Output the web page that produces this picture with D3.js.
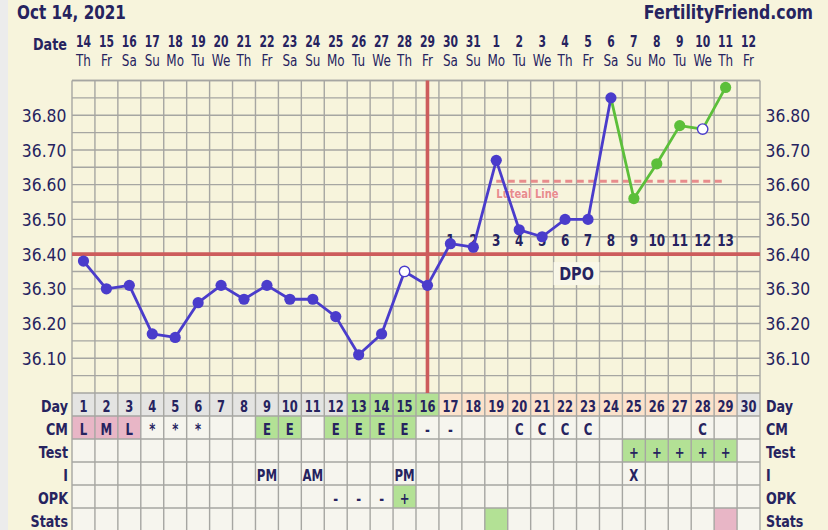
<!DOCTYPE html>
<html><head><meta charset="utf-8">
<script src="https://cdn.jsdelivr.net/npm/d3@7"></script>
<style>html,body{margin:0;padding:0;background:#f7f4dc;overflow:hidden}</style>
</head><body><svg id="c" width="828" height="530"></svg>
<script>
// ---------- data ----------
const titleDate = "Oct 14, 2021";
const siteName = "FertilityFriend.com";
const dates = ["14","15","16","17","18","19","20","21","22","23","24","25","26","27","28","29","30","31","1","2","3","4","5","6","7","8","9","10","11","12"];
const weekdays = ["Th","Fr","Sa","Su","Mo","Tu","We","Th","Fr","Sa","Su","Mo","Tu","We","Th","Fr","Sa","Su","Mo","Tu","We","Th","Fr","Sa","Su","Mo","Tu","We","Th","Fr"];
const cycleDays = [1,2,3,4,5,6,7,8,9,10,11,12,13,14,15,16,17,18,19,20,21,22,23,24,25,26,27,28,29,30];
const temps = [36.38,36.30,36.31,36.17,36.16,36.26,36.31,36.27,36.31,36.27,36.27,36.22,36.11,36.17,36.35,36.31,36.43,36.42,36.67,36.47,36.45,36.50,36.50,36.85,36.56,36.66,36.77,36.76,36.88];
const openDays = [15,28];
const greenDays = [25,26,27,28,29];
const yTicks = [36.10,36.20,36.30,36.40,36.50,36.60,36.70,36.80];
const coverline = 36.40;
const ovulationDay = 16;
const lutealTemp = 36.61;
const lutealDays = [19,29];
const lutealLabel = "Luteal Line";
const dpoLabels = ["1","2","3","4","5","6","7","8","9","10","11","12","13"];
const dpoStartDay = 17;
const dpoTitle = "DPO";
const dpoBoxDays = [22,23];
// table rows: n = neutral, g = green, p = pink, f = fertile (green), l = luteal (peach), x = grey
const dayStatus = ["x","x","x","x","x","x","x","x","x","x","x","x","f","f","f","f","l","l","l","l","l","l","l","l","l","l","l","l","l","x"];
const cmValues = ["L","M","L","*","*","*","","","E","E","","E","E","E","E","-","-","","","C","C","C","C","","","","","C","",""];
const cmStatus = ["p","p","p","n","n","n","n","n","g","g","n","g","g","g","g","n","n","n","n","n","n","n","n","n","n","n","n","n","n","n"];
const testValues = ["","","","","","","","","","","","","","","","","","","","","","","","","+","+","+","+","+",""];
const testStatus = ["n","n","n","n","n","n","n","n","n","n","n","n","n","n","n","n","n","n","n","n","n","n","n","n","g","g","g","g","g","n"];
const iValues = ["","","","","","","","","PM","","AM","","","","PM","","","","","","","","","","X","","","","",""];
const opkValues = ["","","","","","","","","","","","-","-","-","+","","","","","","","","","","","","","","",""];
const opkStatus = ["n","n","n","n","n","n","n","n","n","n","n","n","n","n","g","n","n","n","n","n","n","n","n","n","n","n","n","n","n","n"];
const statsValues = ["","","","","","","","","","","","","","","","","","","","","","","","","","","","","",""];
const statsStatus = ["n","n","n","n","n","n","n","n","n","n","n","n","n","n","n","n","n","n","g","n","n","n","n","n","n","n","n","n","p","n"];
const rowLabels = ["Day","CM","Test","I","OPK","Stats"];

// ---------- style ----------
const NAVY = "#26235f", BLUE = "#4a3ccb", GREEN = "#5cbf3a", RED = "#cd5c5c", LUT = "#e88c8c", GRID = "#a6a6a2";
const FILL = {n:"#f6f5ee", g:"#b3e195", p:"#e8b6c6", f:"#b3e195", l:"#fbe2cb", x:"#e4e4e2"};
const FONT = "DejaVu Sans";
const L = 72, R = 760, TOP = 80.5, BOT = 393, ROWH = 23;

const svg = d3.select("#c");
svg.append("rect").attr("width",828).attr("height",530).attr("fill","#f7f4dc");
svg.append("rect").attr("width",8).attr("height",530).attr("fill","#ececec");

const x = d3.scaleBand().domain(cycleDays).range([L,R]);
const cx = d => x(d) + x.bandwidth()/2;
const y = d3.scaleLinear().domain([36.00,36.90]).range([BOT,TOP]);

function T(x0,y0,s,o){
  return svg.append("text")
    .attr("transform",`translate(${x0},${y0}) scale(${o.sx||1},1)`)
    .attr("text-anchor",o.a||"middle")
    .attr("font-family",FONT).attr("font-weight",o.w||"bold")
    .attr("font-size",o.fs).attr("fill",o.c||NAVY).text(s);
}

// header
T(17,18.5,titleDate,{fs:20,sx:0.76,a:"start"});
T(813,18.5,siteName,{fs:20,sx:0.79,a:"end"});
T(67,50,"Date",{fs:16,sx:0.8,a:"end"});
cycleDays.forEach((d,i)=>{
  T(cx(d),46.5,dates[i],{fs:15,sx:0.72});
  T(cx(d),66,weekdays[i],{fs:15,w:"normal",sx:0.8});
});

// table cells
const rows = [
  {values:cycleDays.map(String), status:dayStatus},
  {values:cmValues, status:cmStatus},
  {values:testValues, status:testStatus},
  {values:iValues, status:iValues.map(()=>"n")},
  {values:opkValues, status:opkStatus},
  {values:statsValues, status:statsStatus}
];
rows.forEach((r,ri)=>{
  const top = BOT + ri*ROWH;
  cycleDays.forEach((d,i)=>{
    svg.append("rect").attr("x",x(d)).attr("y",top).attr("width",x.bandwidth()).attr("height",ROWH).attr("fill",FILL[r.status[i]]);
    if(r.values[i]) T(cx(d), top+18.5, r.values[i], {fs: ri===0?16:15, sx: ri===0?0.72:0.78});
  });
  T(68, top+18.5, rowLabels[ri], {fs:16.5, sx:0.77, a:"end"});
  T(766, top+18.5, rowLabels[ri], {fs:16.5, sx:0.77, a:"start"});
});

// grid
const g = svg.append("g").attr("stroke",GRID).attr("stroke-width",1.4);
y.ticks(18).forEach(t=>{
  g.append("line").attr("x1",L).attr("x2",R).attr("y1",y(t)).attr("y2",y(t));
});
g.append("line").attr("x1",L).attr("x2",R).attr("y1",TOP).attr("y2",TOP);
for(let ri=1; ri<=6; ri++){
  g.append("line").attr("x1",L).attr("x2",R).attr("y1",BOT+ri*ROWH).attr("y2",BOT+ri*ROWH);
}
cycleDays.concat([31]).forEach(d=>{
  const xx = d<=30 ? x(d) : R;
  g.append("line").attr("x1",xx).attr("x2",xx).attr("y1",TOP).attr("y2",530);
});

// y axes
const axL = svg.append("g").attr("transform",`translate(${L},0)`)
  .call(d3.axisLeft(y).tickValues(yTicks).tickSize(0).tickPadding(6).tickFormat(d3.format(".2f")));
const axR = svg.append("g").attr("transform",`translate(${R},0)`)
  .call(d3.axisRight(y).tickValues(yTicks).tickSize(0).tickPadding(6).tickFormat(d3.format(".2f")));
[axL,axR].forEach(a=>{
  a.select(".domain").remove();
  a.selectAll("text").attr("font-family",FONT).attr("font-size",17).attr("fill",NAVY)
    .attr("dy","0.36em").attr("transform","scale(0.92,1)");
});

// DPO box
svg.append("rect").attr("x",x(dpoBoxDays[0])).attr("y",y(coverline)+8)
  .attr("width",x(dpoBoxDays[1])+x.bandwidth()-x(dpoBoxDays[0])).attr("height",23).attr("fill","#f9f7e8");
T((x(dpoBoxDays[0])+x(dpoBoxDays[1])+x.bandwidth())/2, y(coverline)+26, dpoTitle, {fs:18, sx:0.8});

// luteal line
svg.append("line").attr("x1",cx(lutealDays[0])).attr("x2",cx(lutealDays[1]))
  .attr("y1",y(lutealTemp)).attr("y2",y(lutealTemp))
  .attr("stroke",LUT).attr("stroke-width",3).attr("stroke-dasharray","7,4.5");
T(cx(lutealDays[0]), y(lutealTemp)+17, lutealLabel, {fs:12.5, sx:0.8, a:"start", c:LUT})
  .attr("stroke","#fdf4f0").attr("stroke-width",1.2).attr("paint-order","stroke");

// coverline & ovulation line
svg.append("line").attr("x1",L).attr("x2",R).attr("y1",y(coverline)).attr("y2",y(coverline))
  .attr("stroke",RED).attr("stroke-width",3.6);
svg.append("line").attr("x1",cx(ovulationDay)).attr("x2",cx(ovulationDay)).attr("y1",TOP).attr("y2",BOT)
  .attr("stroke",RED).attr("stroke-width",3.6);

// DPO labels
dpoLabels.forEach((s,i)=>{
  T(cx(dpoStartDay+i), y(coverline)-8, s, {fs:16, sx:0.75});
});

// temperature lines
const pts = temps.map((t,i)=>({day:cycleDays[i], t}));
const line = d3.line().x(d=>cx(d.day)).y(d=>y(d.t));
const bluePts = pts.filter(p=>!greenDays.includes(p.day));
const greenPts = pts.filter(p=>greenDays.includes(p.day) || p.day===greenDays[0]-1);
svg.append("path").datum(bluePts).attr("d",line).attr("fill","none").attr("stroke",BLUE).attr("stroke-width",2.8).attr("stroke-linejoin","round");
svg.append("path").datum(greenPts).attr("d",line).attr("fill","none").attr("stroke",GREEN).attr("stroke-width",2.8).attr("stroke-linejoin","round");
svg.selectAll("circle.pt").data(pts).enter().append("circle")
  .attr("cx",d=>cx(d.day)).attr("cy",d=>y(d.t))
  .attr("r",d=>openDays.includes(d.day)?5.2:5.6)
  .attr("fill",d=>openDays.includes(d.day)?"#fff":(greenDays.includes(d.day)?GREEN:BLUE))
  .attr("stroke",d=>openDays.includes(d.day)?BLUE:"none").attr("stroke-width",1.4);
</script></body></html>
